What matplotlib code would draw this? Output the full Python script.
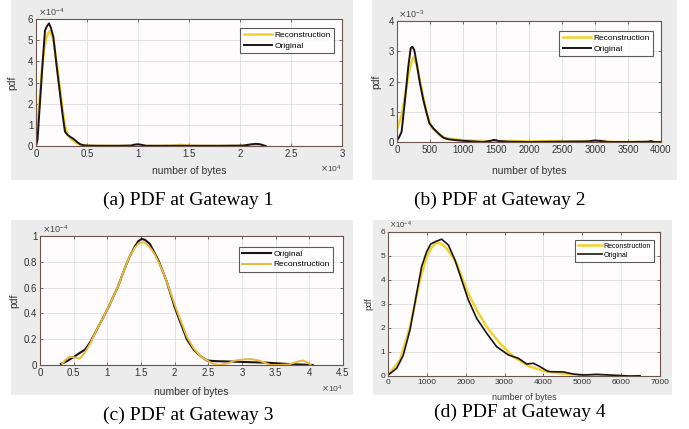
import matplotlib
matplotlib.use("Agg")
import matplotlib.pyplot as plt
from matplotlib.patches import Rectangle
from matplotlib.ticker import FuncFormatter, MultipleLocator

W, H = 689, 429

# ---- (a) Gateway 1: x in bytes, y in units of 1e-4 ----
a_orig_x = [0, 70, 150, 300, 450, 600, 750, 880, 1050, 1270, 1450, 1700, 2030, 2350,
            2610, 2840, 3100, 3330, 3600, 3820, 4050, 4310, 4600, 4960, 6000, 8000,
            9300, 9600, 9900, 10200, 10500, 10800, 12000, 15000, 18000, 20300, 20700,
            21100, 21500, 21900, 22200, 22500]
a_orig_y = [0.0, 0.13, 0.3, 1.4, 2.5, 3.6, 4.6, 5.45, 5.64, 5.79, 5.6, 5.16, 3.75, 2.49,
            1.46, 0.68, 0.52, 0.44, 0.36, 0.28, 0.18, 0.09, 0.04, 0.02, 0.01, 0.01,
            0.02, 0.06, 0.08, 0.07, 0.04, 0.01, 0.01, 0.01, 0.01, 0.02, 0.05,
            0.08, 0.1, 0.09, 0.05, 0.0]
a_rec_x = [0, 100, 250, 400, 600, 800, 1000, 1200, 1350, 1500, 1750, 2030, 2350, 2610,
           2840, 3100, 3500, 4000, 4500, 5000, 8000, 12000, 13500, 14200, 14800, 16000,
           20000, 22500]
a_rec_y = [0.5, 1.0, 1.6, 2.5, 3.7, 4.6, 5.1, 5.35, 5.42, 5.3, 4.9, 3.9, 2.7, 1.7,
           0.95, 0.55, 0.3, 0.13, 0.04, 0.01, 0.0, 0.0, 0.02, 0.05, 0.02, 0.0,
           0.0, 0.0]

# ---- (b) Gateway 2: y in units of 1e-3 ----
b_orig_x = [0, 30, 70, 121, 171, 207, 232, 262, 298, 348, 399, 450, 490, 551, 626, 702,
            778, 900, 1000, 1150, 1300, 1400, 1470, 1550, 1700, 2000, 2400, 2900, 3000,
            3100, 3200, 3500, 3800, 3850, 3900, 4000]
b_orig_y = [0.05, 0.15, 0.34, 1.39, 2.49, 3.1, 3.15, 3.04, 2.6, 1.94, 1.39, 0.95, 0.62,
            0.45, 0.29, 0.14, 0.09, 0.06, 0.04, 0.02, 0.0, 0.03, 0.07, 0.03, 0.01, 0.0,
            0.01, 0.02, 0.05, 0.03, 0.0, 0.0, 0.01, 0.03, 0.0, 0.0]
b_rec_x = [0, 70, 121, 171, 220, 250, 300, 350, 400, 450, 500, 550, 650, 750, 900, 1000,
           1200, 1400, 1600, 2000, 2400, 2700, 3000, 3100, 3300, 4000]
b_rec_y = [0.42, 0.89, 1.5, 2.2, 2.65, 2.8, 2.55, 2.0, 1.45, 0.95, 0.62, 0.43, 0.22,
           0.12, 0.08, 0.06, 0.04, 0.02, 0.03, 0.02, 0.03, 0.01, 0.04, 0.04, 0.0, 0.0]

# ---- (c) Gateway 3: y in units of 1e-4 ----
c_orig_x = [3100, 4000, 4950, 5800, 6700, 7500, 8200, 9100, 10000, 10800, 11600, 12300,
            12900, 13500, 14100, 14600, 15100, 15600, 16300, 17000, 17600, 18200, 18800,
            19400, 20000, 20700, 21300, 21800, 22800, 23800, 24800, 26000, 28700, 31000,
            33700, 36100, 38000, 40500]
c_orig_y = [0.008, 0.03, 0.06, 0.09, 0.12, 0.18, 0.25, 0.34, 0.43, 0.52, 0.61, 0.71,
            0.79, 0.86, 0.92, 0.96, 0.977, 0.97, 0.94, 0.87, 0.81, 0.73, 0.65,
            0.55, 0.45, 0.35, 0.27, 0.2, 0.12, 0.07, 0.035, 0.03, 0.026, 0.022,
            0.018, 0.01, 0.005, 0.0]
c_rec_x = [3300, 3800, 4400, 5000, 5900, 6700, 7500, 8200, 9100, 10000, 10800, 11600,
           12300, 12900, 13500, 14100, 14600, 15000, 15500, 16000, 16500, 17000, 17600,
           18200, 18800, 19400, 20000, 20700, 21300, 21800, 22800, 23800, 24500, 25300,
           26000, 26700, 28000, 29000, 30500, 31500, 32500, 33500, 34200, 35500, 37000,
           38200, 39000, 39500, 40200]
c_rec_y = [0.01, 0.04, 0.064, 0.06, 0.05, 0.1, 0.17, 0.25, 0.34, 0.43, 0.52, 0.61,
           0.71, 0.79, 0.86, 0.91, 0.94, 0.95, 0.95, 0.93, 0.9, 0.86, 0.8,
           0.73, 0.65, 0.56, 0.47, 0.37, 0.29, 0.22, 0.13, 0.07, 0.045, 0.02,
           0.005, 0.0, 0.015, 0.035, 0.045, 0.045, 0.035, 0.015, 0.0, 0.0, 0.005,
           0.025, 0.035, 0.025, 0.005]

# ---- (d) Gateway 4: y in units of 1e-4 ----
d_orig_x = [0, 35, 223, 394, 566, 738, 866, 995, 1100, 1250, 1381, 1553, 1724, 1896, 2067,
            2282, 2540, 2797, 3096, 3354, 3569, 3740, 3912, 4084, 4169, 4512, 4770, 5026,
            5370, 5714, 5970, 6227, 6485]
d_orig_y = [0.05, 0.08, 0.32, 0.87, 1.92, 3.45, 4.56, 5.18, 5.5, 5.62, 5.7, 5.46, 4.83,
            4.0, 3.17, 2.4, 1.78, 1.22, 0.88, 0.74, 0.5, 0.53, 0.39, 0.22, 0.18, 0.17,
            0.08, 0.04, 0.07, 0.04, 0.02, 0.0, 0.01]
d_rec_x = [0, 35, 309, 566, 823, 995, 1120, 1252, 1380, 1510, 1767, 2025, 2282, 2540,
           2882, 3225, 3654, 4084, 4512, 5026, 5542, 5970]
d_rec_y = [0.05, 0.1, 0.67, 2.05, 4.0, 4.97, 5.35, 5.56, 5.5, 5.32, 4.7, 3.58, 2.75,
           2.05, 1.36, 0.8, 0.39, 0.18, 0.1, 0.04, 0.01, 0.0]

captions = ["(a) PDF at Gateway 1", "(b) PDF at Gateway 2",
            "(c) PDF at Gateway 3", "(d) PDF at Gateway 4"]

BLACK = "#1c1414"
SPINE = "#6b5550"
GRID = "#dddddd"
PANEL_BG = "#ececec"

fig = plt.figure(figsize=(W / 100, H / 100), dpi=100)


def px_rect(x0, y0, x1, y1):
    return [x0 / W, 1 - y1 / H, (x1 - x0) / W, (y1 - y0) / H]


def gray_box(x0, y0, x1, y1):
    fig.add_artist(Rectangle((x0 / W, 1 - y1 / H), (x1 - x0) / W, (y1 - y0) / H,
                             transform=fig.transFigure, facecolor=PANEL_BG,
                             edgecolor="none", zorder=-5))


def panel(rect, xlim, ylim, xstep, ystep, xscale, yexp, xexp, fs, xlab_y, ylab_x):
    ax = fig.add_axes(px_rect(*rect))
    ax.set_facecolor("#fefcfc")
    ax.set_xlim(*xlim)
    ax.set_ylim(*ylim)
    ax.xaxis.set_major_locator(MultipleLocator(xstep))
    ax.yaxis.set_major_locator(MultipleLocator(ystep))
    ax.xaxis.set_major_formatter(FuncFormatter(lambda v, p: f"{v / xscale:g}"))
    ax.yaxis.set_major_formatter(FuncFormatter(lambda v, p: f"{round(v, 6):g}"))
    ax.grid(True, color=GRID, lw=0.6)
    ax.set_axisbelow(True)
    for s in ax.spines.values():
        s.set_color(SPINE)
        s.set_linewidth(0.8)
    ax.tick_params(direction="in", length=2.5, width=0.6, color=SPINE, top=True,
                   right=True, labelsize=fs, labelcolor="#333333", pad=2)
    for lab in ax.get_xticklabels() + ax.get_yticklabels():
        lab.set_fontfamily("Liberation Sans")
    ax.set_xlabel("number of bytes", fontsize=fs + 0.5, family="Liberation Sans",
                  color="#333333")
    ax.xaxis.set_label_coords(0.5, xlab_y)
    ax.set_ylabel("pdf", fontsize=fs + 0.5, family="Liberation Sans", color="#333333")
    ax.yaxis.set_label_coords(ylab_x, 0.5)
    ax.text(0.005, 1.005, r"$\times\mathregular{10^{%d}}$" % yexp, transform=ax.transAxes,
            ha="left", va="bottom", fontsize=fs - 0.5, color="#444444",
            family="Liberation Sans")
    if xexp:
        ax.text(1.0, xlab_y - 0.02, r"$\times\mathregular{10^{%d}}$" % xexp,
                transform=ax.transAxes, ha="right", va="center", fontsize=fs - 1,
                color="#444444", family="Liberation Sans")
    return ax


def legend(ax, handles, labels, anchor, fs):
    leg = ax.legend(handles, labels, loc="upper right", bbox_to_anchor=anchor,
                    borderaxespad=0, frameon=True, fancybox=False,
                    handlelength=3.4, handletextpad=0.3, borderpad=0.4,
                    labelspacing=0.3, prop={"family": "Liberation Sans", "size": fs})
    leg.get_frame().set_edgecolor("#333333")
    leg.get_frame().set_linewidth(0.8)
    return leg


# grey panel backgrounds
gray_box(11, 0, 353, 180)
gray_box(372, 0, 677, 180)
gray_box(11, 220, 353, 395)
gray_box(373, 220, 672, 395)

# (a)
ax = panel((36, 19, 342, 146), (0, 30000), (0, 6), 5000, 1, 1e4, -4, 4, 7,
           -0.16, -0.06)
ly, = ax.plot(a_rec_x, a_rec_y, color="#f2d22c", lw=1.8)
lk, = ax.plot(a_orig_x, a_orig_y, color=BLACK, lw=1.4)
legend(ax, [ly, lk], ["Reconstruction", "Original"], (0.974, 0.929), 6)

# (b)
ax = panel((397, 21, 661, 142), (0, 4000), (0, 4), 500, 1, 1, -3, None, 7,
           -0.2, -0.06)
ly, = ax.plot(b_rec_x, b_rec_y, color="#f2d22c", lw=1.8)
lk, = ax.plot(b_orig_x, b_orig_y, color=BLACK, lw=1.4)
legend(ax, [ly, lk], ["Reconstruction", "Original"], (0.970, 0.917), 6)

# (c)
ax = panel((40, 236, 343, 365), (0, 45000), (0, 1), 5000, 0.2, 1e4, -4, 4, 7,
           -0.17, -0.07)
lk, = ax.plot(c_orig_x, c_orig_y, color=BLACK, lw=1.5)
ly, = ax.plot(c_rec_x, c_rec_y, color="#e8b93a", lw=1.4)
legend(ax, [lk, ly], ["Original", "Reconstruction"], (0.967, 0.915), 6)

# (d)
ax = panel((388, 232, 660, 376), (0, 7000), (0, 6), 1000, 1, 1, -4, None, 6,
           -0.115, -0.055)
ly, = ax.plot(d_rec_x, d_rec_y, color="#f2d22c", lw=1.8)
lk, = ax.plot(d_orig_x, d_orig_y, color=BLACK, lw=1.2)
legend(ax, [ly, lk], ["Reconstruction", "Original"], (0.978, 0.944), 5)

# captions
for (cx, cy), text in zip([(188, 200), (500, 200), (188, 415), (520, 412)], captions):
    fig.text(cx / W, 1 - cy / H, text, ha="center", va="center", fontsize=14,
             family="Liberation Serif", color="black")

fig.savefig("out.png", dpi=100)
